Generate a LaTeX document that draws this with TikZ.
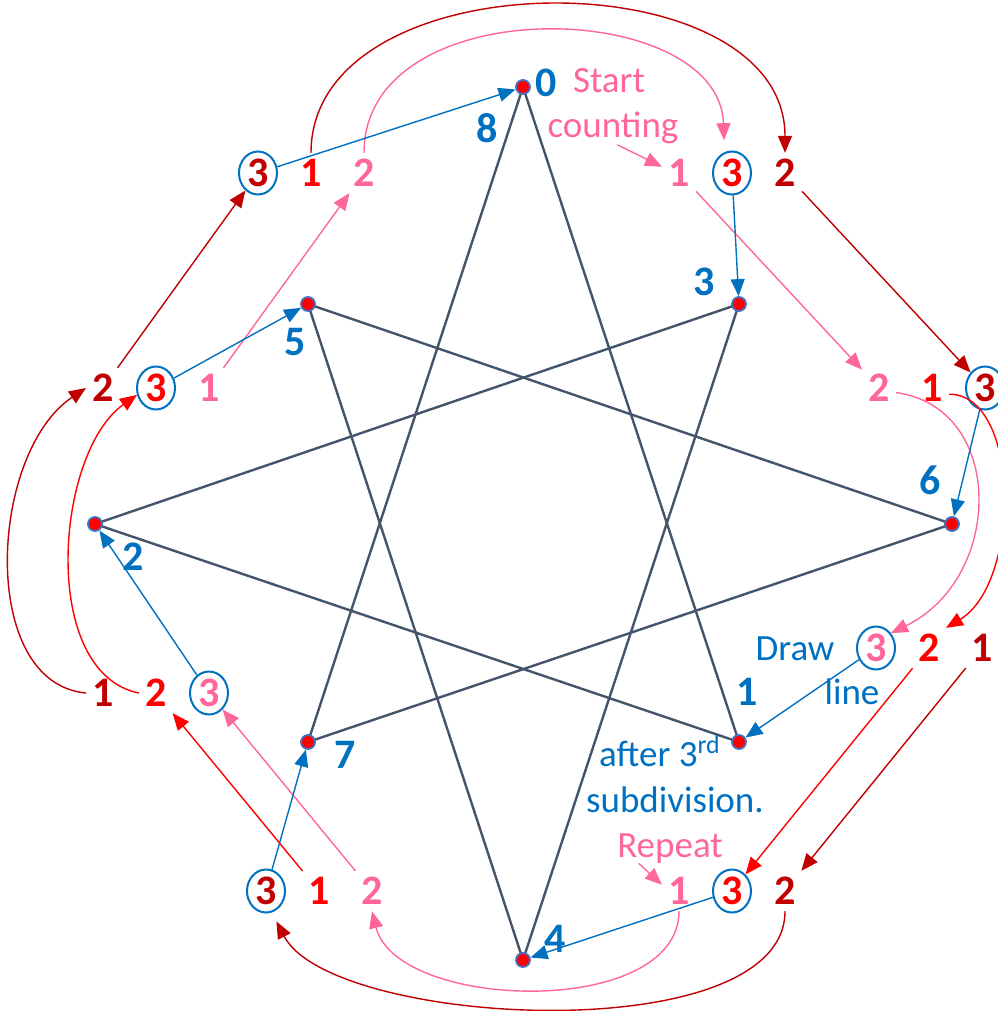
\documentclass[tikz,border=0pt]{standalone}
\usepackage{fontspec}
\setmainfont{Carlito}
\usetikzlibrary{positioning,arrows.meta,shapes.geometric,backgrounds}

\definecolor{cblue}{RGB}{0,112,192}
\definecolor{cdark}{RGB}{192,0,0}
\definecolor{cred}{RGB}{255,0,0}
\definecolor{cpink}{RGB}{255,102,153}
\definecolor{cslate}{RGB}{68,84,106}
\definecolor{crim}{RGB}{68,114,196}

\begin{document}
\begin{tikzpicture}[
x=0.5pt,
y=-0.5pt,
node distance=26.5pt,
on grid,
num/.style={
font=\bfseries\fontsize{21}{25}\selectfont,
inner sep=3pt
},
third/.style={
num,
ellipse,
draw=cblue,
line width=1pt,
minimum width=19pt,
minimum height=21.5pt,
inner sep=0pt
},
dot/.style={
circle,
fill=red,
draw=crim,
line width=0.9pt,
minimum size=7pt,
inner sep=0pt
},
idx/.style={num, text=cblue},
note/.style={
font=\fontsize{18.5}{22}\selectfont,
inner sep=0pt,
anchor=base
},
star/.style={cslate, line width=1.2pt},
link/.style={->, line width=0.7pt},
>={Triangle[length=8.5pt,width=7pt]}
]

\useasboundingbox (0,0) rectangle (997,1011);

\node (p0) [dot] at (523,87) {};
\node (p1) [dot] at (739,742) {};
\node (p2) [dot] at (95,524) {};
\node (p3) [dot] at (739,304) {};
\node (p4) [dot] at (523,960) {};
\node (p5) [dot] at (308,304) {};
\node (p6) [dot] at (952,524) {};
\node (p7) [dot] at (308,742) {};

\begin{scope}[on background layer]
\draw[star] (p0.center)--(p1.center);
\draw[star] (p1.center)--(p2.center);
\draw[star] (p2.center)--(p3.center);
\draw[star] (p3.center)--(p4.center);
\draw[star] (p4.center)--(p5.center);
\draw[star] (p5.center)--(p6.center);
\draw[star] (p6.center)--(p7.center);
\draw[star] (p7.center)--(p0.center);
\end{scope}

\node (i0) [idx] at (546,83) {0};
\node (i8) [idx] at (487,128) {8};
\node (i3) [idx] at (704,282) {3};
\node (i5) [idx] at (295,342) {5};
\node (i6) [idx] at (930,480) {6};
\node (i2) [idx] at (133,557) {2};
\node (i1) [idx] at (747,692) {1};
\node (i7) [idx] at (345,755) {7};
\node (i4) [idx] at (555,939) {4};

\node (tl3) [third, text=cdark] at (258,173) {3};
\node (tl1) [num, text=cred, right=of tl3] {1};
\node (tl2) [num, text=cpink, right=of tl1] {2};

\node (tr1) [num, text=cpink] at (679,173) {1};
\node (tr3) [third, text=cred, right=of tr1] {3};
\node (tr2) [num, text=cdark, right=of tr3] {2};

\node (rt2) [num, text=cpink] at (879,388) {2};
\node (rt1) [num, text=cred, right=of rt2] {1};
\node (rt3) [third, text=cdark, right=of rt1] {3};

\node (rb3) [third, text=cpink] at (876,648) {3};
\node (rb2) [num, text=cred, right=of rb3] {2};
\node (rb1) [num, text=cdark, right=of rb2] {1};

\node (br1) [num, text=cpink] at (679,891) {1};
\node (br3) [third, text=cred, right=of br1] {3};
\node (br2) [num, text=cdark, right=of br3] {2};

\node (bl3) [third, text=cdark] at (266,891) {3};
\node (bl1) [num, text=cred, right=of bl3] {1};
\node (bl2) [num, text=cpink, right=of bl1] {2};

\node (lb1) [num, text=cdark] at (103,693) {1};
\node (lb2) [num, text=cred, right=of lb1] {2};
\node (lb3) [third, text=cpink, right=of lb2] {3};

\node (lt2) [num, text=cdark] at (103,388) {2};
\node (lt3) [third, text=cred, right=of lt2] {3};
\node (lt1) [num, text=cpink, right=of lt3] {1};

\node (start) [note, text=cpink] at (609,93) {Start};
\node (count) [note, text=cpink] at (613,138) {counting};
\node (drawtxt) [note, text=cblue] at (795,660) {Draw};
\node (linetxt) [note, text=cblue] at (852,704) {line};
\node (after) [note, text=cblue] at (660,766) {after 3\textsuperscript{rd}};
\node (subdiv) [note, text=cblue] at (675,812) {subdivision.};
\node (repeat) [note, text=cpink] at (670,857) {Repeat};

\draw[link, cpink] (count.-75)--(tr1.160);
\draw[link, cpink] (tr1)--(rt2);
\draw[link, cpink] (rt2.-15) .. controls +(110,15) and +(113,-55) .. (rb3.45);
\draw[link, cpink] (repeat.-154)--(br1.160);
\draw[link, cpink] (br1.south) .. controls +(0,108) and +(25,100) .. (bl2.south);
\draw[link, cpink] (bl2)--(lb3);
\draw[link, cpink] (lt1)--(tl2);
\draw[link, cpink, shorten >=6pt] (tl2.north) .. controls +(0,-165) and +(-5,-155) .. (tr3.110);

\draw[link, cred] (rt1.-20) .. controls +(72,0) and +(75,-45) .. (rb2.north east);
\draw[link, cred] (rb2)--(br3);
\draw[link, cred] (bl1)--(lb2);
\draw[link, cred] (lb2.west) .. controls +(-100,-20) and +(-82,58) .. (lt3.200);

\draw[link, cdark] (tl1.north) .. controls +(0,-197) and +(0,-197) .. (tr2.north);
\draw[link, cdark] (tr2)--(rt3);
\draw[link, cdark] (rb1)--(br2);
\draw[link, cdark, shorten >=5pt] (br2.south) .. controls +(0,140) and +(60,115) .. (bl3.-75);
\draw[link, cdark] (lb1.west) .. controls +(-108,-10) and +(-97,65) .. (lt2.west);
\draw[link, cdark] (lt2)--(tl3);

\draw[link, cblue] (tl3)--(p0);
\draw[link, cblue] (tr3)--(p3);
\draw[link, cblue] (rt3)--(p6);
\draw[link, cblue] (rb3)--(p1);
\draw[link, cblue] (br3)--(p4);
\draw[link, cblue] (bl3)--(p7);
\draw[link, cblue] (lb3)--(p2);
\draw[link, cblue] (lt3)--(p5);

\end{tikzpicture}
\end{document}
